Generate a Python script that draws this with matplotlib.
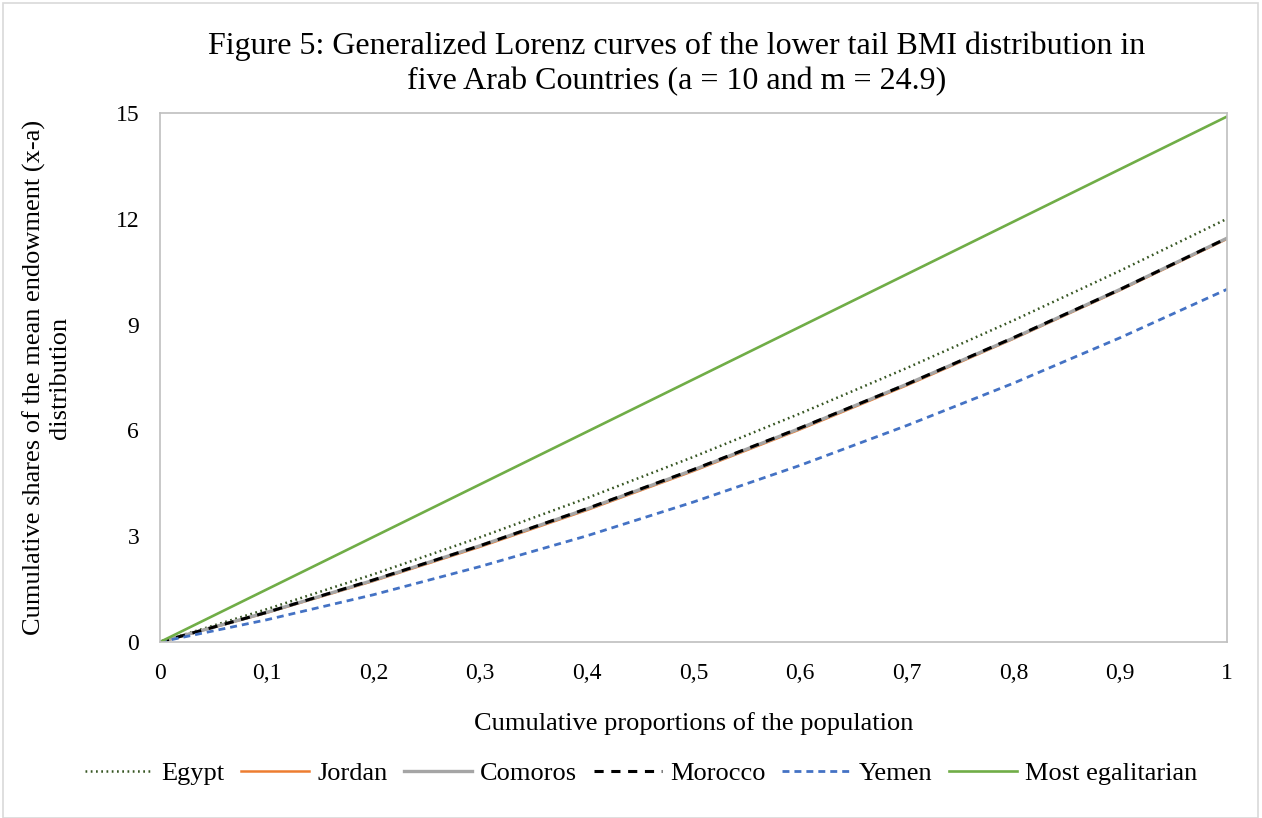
import matplotlib.pyplot as plt
from matplotlib.patches import Rectangle
from matplotlib.ticker import FuncFormatter

# population proportions
p = [0, 0.1, 0.2, 0.3, 0.4, 0.5, 0.6, 0.7, 0.8, 0.9, 1.0]

egypt = [0, 0.93, 1.92, 2.97, 4.08, 5.25, 6.48, 7.77, 9.12, 10.53, 12.0]
jordan = [0, 0.83, 1.73, 2.70, 3.74, 4.85, 6.03, 7.28, 8.60, 9.98, 11.43]
comoros = [0, 0.84, 1.75, 2.73, 3.77, 4.88, 6.06, 7.31, 8.62, 10.0, 11.45]
morocco = [0, 0.84, 1.76, 2.73, 3.78, 4.89, 6.07, 7.31, 8.63, 10.0, 11.45]
yemen = [0, 0.63, 1.34, 2.14, 3.01, 3.97, 5.01, 6.14, 7.34, 8.63, 10.0]
egalitarian = [0, 1.49, 2.98, 4.47, 5.96, 7.45, 8.94, 10.43, 11.92, 13.41, 14.9]

plt.rcParams['font.family'] = ['Liberation Serif', 'DejaVu Serif']

fig = plt.figure(figsize=(12.62, 8.18), dpi=100)
ax = fig.add_axes([160/1262, 1-642/818, (1227-160)/1262, (642-113)/818])

ax.plot(p, egypt, color='#375623', lw=1.8, ls=(0, (0.7, 1.4)), label='Egypt')
ax.plot(p, jordan, color='#ED7D31', lw=1.8, label='Jordan')
ax.plot(p, comoros, color='#A5A5A5', lw=2.4, label='Comoros')
ax.plot(p, morocco, color='black', lw=2.2, ls=(0, (3, 2.5)), label='Morocco')
ax.plot(p, yemen, color='#4472C4', lw=2.0, ls=(0, (2.5, 1.8)), label='Yemen')
ax.plot(p, egalitarian, color='#70AD47', lw=1.9, label='Most egalitarian')

ax.set_xlim(0, 1)
ax.set_ylim(0, 15)
ax.set_xticks(p)
ax.set_yticks([0, 3, 6, 9, 12, 15])
ax.xaxis.set_major_formatter(FuncFormatter(lambda v, pos: ('%g' % round(v, 1)).replace('.', ',')))
ax.tick_params(length=0, labelsize=17)
ax.tick_params(axis='x', pad=15)
ax.tick_params(axis='y', pad=15)
for s in ax.spines.values():
    s.set_color('#BFBFBF')
    s.set_linewidth(1.2)

ax.set_xlabel('Cumulative proportions of the population', fontsize=19, labelpad=20)
ax.set_ylabel('Cumulative shares of the mean endowment (x-a)\ndistribution', fontsize=19,
              labelpad=32, linespacing=1.2)
fig.text(677/1262, 1-64/818,
         'Figure 5: Generalized Lorenz curves of the lower tail BMI distribution in\nfive Arab Countries (a = 10 and m = 24.9)',
         fontsize=23, ha='center', va='center', linespacing=1.25)

fig.legend(loc='center', bbox_to_anchor=(641/1262, 1-773/818), ncol=6, frameon=False,
           fontsize=19, handlelength=2.6, handletextpad=0.3, columnspacing=0.62)

fig.patches.append(Rectangle((3/1262, 0), 1255/1262, 1-3/818, transform=fig.transFigure,
                             fill=False, edgecolor='#D9D9D9', lw=1.2))

fig.savefig('out.png', dpi=100)
